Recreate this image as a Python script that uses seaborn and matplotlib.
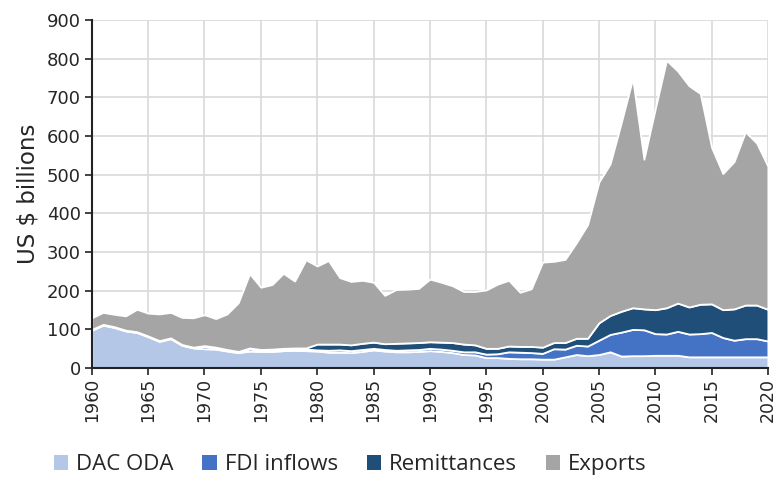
import numpy as np
import pandas as pd
import matplotlib
matplotlib.use("Agg")
import matplotlib.pyplot as plt
import seaborn as sns
from matplotlib.patches import Patch

years = list(range(1960, 2021))

dac_oda = [98, 111, 105, 96, 92, 81, 69, 76, 59, 52,
           50, 49, 44, 40, 44, 43, 43, 45, 46, 45,
           44, 41, 41, 40, 43, 47, 44, 42, 42, 43,
           45, 43, 40, 35, 34, 27, 27, 25, 24, 24,
           23, 23, 29, 35, 32, 35, 42, 31, 32, 32,
           33, 33, 33, 29, 29, 29, 29, 29, 29, 29,
           29]
fdi_inflows = [1, 1, 1, 1, 1, 1, 1, 1, 1, 1,
               6, 3, 2, 1, 6, 3, 3, 3, 3, 4,
               3, 5, 6, 5, 5, 4, 4, 4, 5, 5,
               6, 6, 6, 7, 8, 9, 10, 17, 17, 16,
               15, 27, 20, 24, 25, 37, 45, 62, 68, 67,
               56, 55, 62, 59, 60, 63, 50, 43, 47, 47,
               41]
remittances = [1, 1, 1, 1, 1, 1, 1, 1, 1, 1,
               2, 2, 2, 2, 2, 2, 3, 3, 3, 3,
               15, 16, 15, 15, 16, 16, 15, 18, 18, 18,
               17, 18, 20, 20, 18, 15, 14, 15, 15, 16,
               16, 16, 17, 18, 20, 45, 49, 54, 56, 54,
               62, 68, 73, 70, 76, 74, 72, 81, 87, 87,
               82]
exports = [30, 31, 32, 37, 58, 59, 69, 66, 70, 76,
           80, 74, 92, 126, 192, 161, 167, 194, 173, 228,
           202, 216, 172, 164, 163, 155, 125, 139, 139, 140,
           162, 155, 147, 136, 138, 151, 166, 170, 140, 149,
           220, 210, 215, 247, 294, 364, 392, 489, 593, 387,
           519, 640, 600, 572, 545, 405, 352, 381, 448, 419,
           370]

series_names = ["DAC ODA", "FDI inflows", "Remittances", "Exports"]
colors = ["#B4C7E7", "#4472C4", "#1F4E79", "#A5A5A5"]

df = pd.DataFrame({"Year": years, "DAC ODA": dac_oda, "FDI inflows": fdi_inflows,
                   "Remittances": remittances, "Exports": exports})

sns.set_theme(style="whitegrid")
plt.rcParams['font.family'] = ['DejaVu Sans']

fig, ax = plt.subplots(figsize=(7.78, 4.78), dpi=100)
fig.subplots_adjust(left=0.118, right=0.987, top=0.958, bottom=0.23)

ax.stackplot(df["Year"], [df[n] for n in series_names], colors=colors,
             edgecolor="white", linewidth=1.3, zorder=3)

ax.set_xlim(1960, 2020)
ax.set_ylim(0, 900)
ax.set_xticks(range(1960, 2021, 5))
ax.set_yticks(range(0, 901, 100))
ax.tick_params(axis="x", labelrotation=90, labelsize=12.5, length=5, width=1.2,
               color="#222222", bottom=True, pad=2)
ax.tick_params(axis="y", labelsize=13, length=5, width=1.2, color="#222222", left=True, pad=3)
ax.set_ylabel("US $ billions", fontsize=16.5, labelpad=5)
ax.set_xlabel("")
ax.grid(True, color="#D9D9D9", linewidth=1.2, zorder=0)
ax.set_axisbelow(True)
for side in ["top", "right"]:
    ax.spines[side].set_visible(False)
for side in ["left", "bottom"]:
    ax.spines[side].set_color("#222222")
    ax.spines[side].set_linewidth(1.5)
    ax.spines[side].set_zorder(5)

handles = [Patch(facecolor=c, edgecolor="none") for c in colors]
fig.legend(handles, series_names, loc="center", bbox_to_anchor=(0.45, 0.028),
           ncol=4, frameon=False, fontsize=15, handlelength=0.65, handleheight=0.65,
           handletextpad=0.35, columnspacing=1.3, prop={"family": ["Liberation Sans Narrow", "Open Sans"], "size": 16})

fig.savefig("out.png", dpi=100)
